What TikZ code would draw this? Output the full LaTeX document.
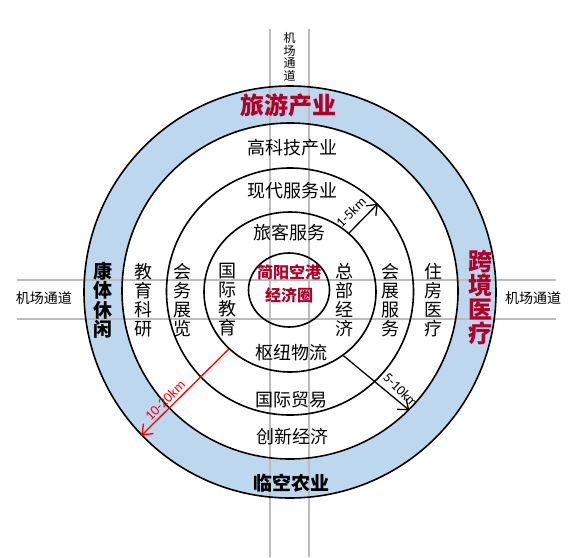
\documentclass[tikz,border=0pt]{standalone}
\usepackage{fontspec}
\setmainfont{Noto Sans CJK SC}
\newfontfamily\latinfont{Carlito}
\usetikzlibrary{arrows.meta,shapes.geometric}
\definecolor{ringblue}{RGB}{189,215,238}
\definecolor{darkred}{RGB}{176,0,40}
\definecolor{linegray}{RGB}{188,188,188}
\begin{document}
\begin{tikzpicture}[x=1pt,y=-1pt,
  ringc/.style={draw=black, line width=1.6pt, circle, inner sep=0pt},
  ringe/.style={draw=black, line width=1.6pt, ellipse, inner sep=0pt},
  road/.style={draw=linegray, line width=1.6pt},
  lab/.style={font=\fontsize{18}{19.5}\selectfont, align=center, inner sep=0pt},
  vlab/.style={font=\fontsize{18}{19}\selectfont, align=center, inner sep=0pt},
  redbig/.style={font=\fontsize{24}{24}\selectfont\bfseries, text=darkred, align=center, inner sep=0pt},
  blackbig/.style={font=\fontsize{19}{19.5}\selectfont\bfseries, align=center, inner sep=0pt},
  roadlab/.style={font=\fontsize{14}{14}\selectfont, align=center, inner sep=0pt},
  distarrow/.style={line width=1.3pt, -{Straight Barb[length=9pt,width=14pt,line width=1.3pt]}},
  distlab/.style={font=\latinfont\fontsize{14}{14}\selectfont, inner sep=0pt}
]
\useasboundingbox (0,0) rectangle (578,557);
% ring fills
\fill[ringblue] (290,292) circle[radius=206pt];
\fill[white] (290,292) circle[radius=168pt];
% airport access roads
\coordinate (v1t) at (270,29); \coordinate (v1b) at (270,557);
\coordinate (v2t) at (309,29); \coordinate (v2b) at (309,557);
\coordinate (h1l) at (17,280); \coordinate (h1r) at (556,280);
\coordinate (h2l) at (17,319); \coordinate (h2r) at (556,319);
\draw[road] (v1t) -- (v1b);
\draw[road] (v2t) -- (v2b);
\draw[road] (h1l) -- (h1r);
\draw[road] (h2l) -- (h2r);
% circles
\node[ringc, minimum size=412pt] (c5) at (290,292) {};
\node[ringc, minimum size=336pt] (c4) at (290,291) {};
\node[ringc, minimum size=247pt] (c3) at (290,291.5) {};
\node[ringe, minimum width=172pt, minimum height=160pt] (c2) at (290,292) {};
\node[ringe, minimum width=81pt, minimum height=74pt] (c1) at (289,290) {};
% distance arrows
\draw[distarrow] (c2.45) -- (c3.45);
\node[distlab, rotate=45] (k1) at (351,212) {1-5km};
\draw[distarrow] (c2.-50) -- (c4.-45);
\node[distlab, rotate=-45] (k2) at (401,390) {5-10km};
\draw[distarrow, draw=red] (c2.223) -- (c5.224);
\node[distlab, rotate=45, text=red] (k3) at (165,400) {10-20km};
% road labels
\node[roadlab, font=\fontsize{12}{12.5}\selectfont] (rt) at (289.5,57) {机\\场\\通\\道};
\node[roadlab] (rl) at (44,298) {机场通道};
\node[roadlab] (rr) at (533,298) {机场通道};
% outer ring
\node[redbig] (t1) at (288,105) {旅游产业};
\node[blackbig] (t2) at (291,483) {临空农业};
\node[blackbig] (t3) at (103,300) {康\\体\\休\\闲};
\node[redbig] (t4) at (480,298) {跨\\境\\医\\疗};
% rings
\node[lab] (a1) at (292,148) {高科技产业};
\node[lab] (a2) at (292,191) {现代服务业};
\node[lab] (a3) at (289,233) {旅客服务};
\node[lab] (a4) at (291,353) {枢纽物流};
\node[lab] (a5) at (291,400) {国际贸易};
\node[lab] (a6) at (292,437) {创新经济};
\node[vlab] (b1) at (143,300) {教\\育\\科\\研};
\node[vlab] (b2) at (182,300) {会\\务\\展\\览};
\node[vlab] (b3) at (227,300) {国\\际\\教\\育};
\node[vlab] (b4) at (344,300) {总\\部\\经\\济};
\node[vlab] (b5) at (390,300) {会\\展\\服\\务};
\node[vlab] (b6) at (433,300) {住\\房\\医\\疗};
\node[font=\fontsize{16}{23}\selectfont\bfseries, text=darkred, align=center, inner sep=0pt] (core) at (289,284) {简阳空港\\经济圈};
\end{tikzpicture}
\end{document}
